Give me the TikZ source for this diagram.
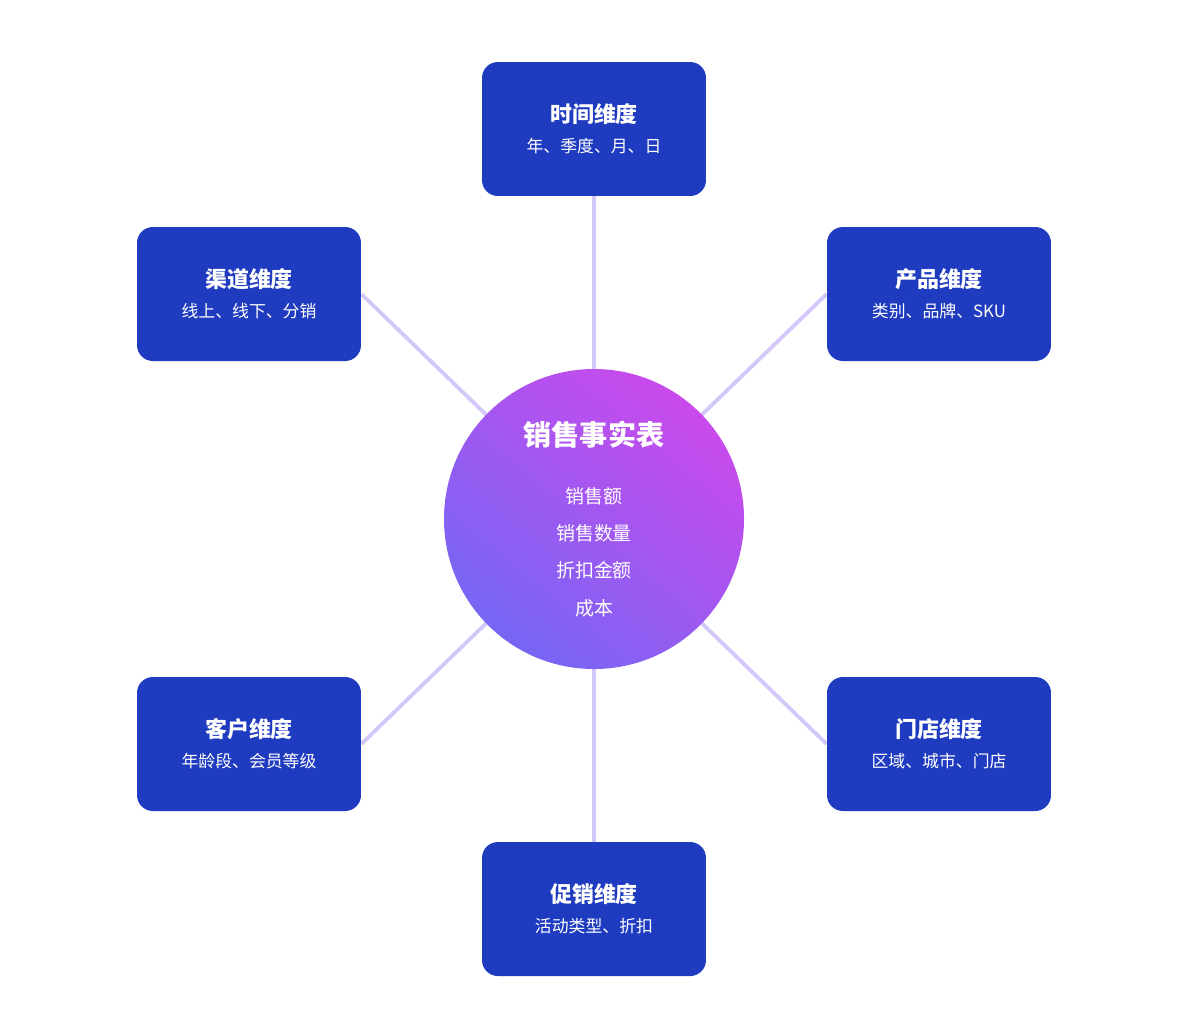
\documentclass[tikz,border=0pt]{standalone}
\usepackage{fontspec}
\setmainfont{Noto Sans CJK SC}
\usetikzlibrary{backgrounds}
\definecolor{boxblue}{RGB}{31,59,191}
\definecolor{linkpurple}{RGB}{212,200,251}
\definecolor{factpink}{RGB}{202,74,236}
\definecolor{factviolet}{RGB}{118,102,244}
\tikzset{
    dimbox/.style={fill=boxblue, rounded corners=9pt, minimum width=4.48cm,
        minimum height=2.68cm, align=center, text=white, inner sep=0pt},
    link/.style={linkpurple, line width=2.2pt},
}
\newcommand{\dimtext}[2]{{\fontsize{12.5}{15}\selectfont\bfseries #1}\\[5pt]{\fontsize{9.6}{12}\selectfont #2}}

\begin{document}
\begin{tikzpicture}[x=0.02cm, y=-0.02cm]
    \useasboundingbox (0,0) rectangle (1185,1012);

    % fact table
    \shade[top color=factpink, bottom color=factviolet, shading angle=-40]
        (594,519) circle (150);
    \node[circle, minimum size=6cm, align=center, text=white] (fact) at (594,519) {};
    \node[text=white, font=\fontsize{16}{19}\selectfont\bfseries] (facttitle) at (594,435) {销售事实表};
    \node[text=white, align=center, font=\fontsize{10.8}{21.3}\selectfont] (factitems) at (594,552)
        {销售额\\销售数量\\折扣金额\\成本};

    % dimensions
    \node[dimbox] (time) at (594,129) {\dimtext{时间维度}{年、季度、月、日}};
    \node[dimbox] (channel) at (249,294) {\dimtext{渠道维度}{线上、线下、分销}};
    \node[dimbox] (product) at (939,294) {\dimtext{产品维度}{类别、品牌、SKU}};
    \node[dimbox] (customer) at (249,744) {\dimtext{客户维度}{年龄段、会员等级}};
    \node[dimbox] (store) at (939,744) {\dimtext{门店维度}{区域、城市、门店}};
    \node[dimbox] (promo) at (594,909) {\dimtext{促销维度}{活动类型、折扣}};

    % links
    \begin{scope}[on background layer]
        \draw[link] (time.south) -- (fact.center);
        \draw[link] (promo.north) -- (fact.center);
        \draw[link] (channel.east) -- (fact.center);
        \draw[link] (product.west) -- (fact.center);
        \draw[link] (customer.east) -- (fact.center);
        \draw[link] (store.west) -- (fact.center);
    \end{scope}
\end{tikzpicture}
\end{document}
